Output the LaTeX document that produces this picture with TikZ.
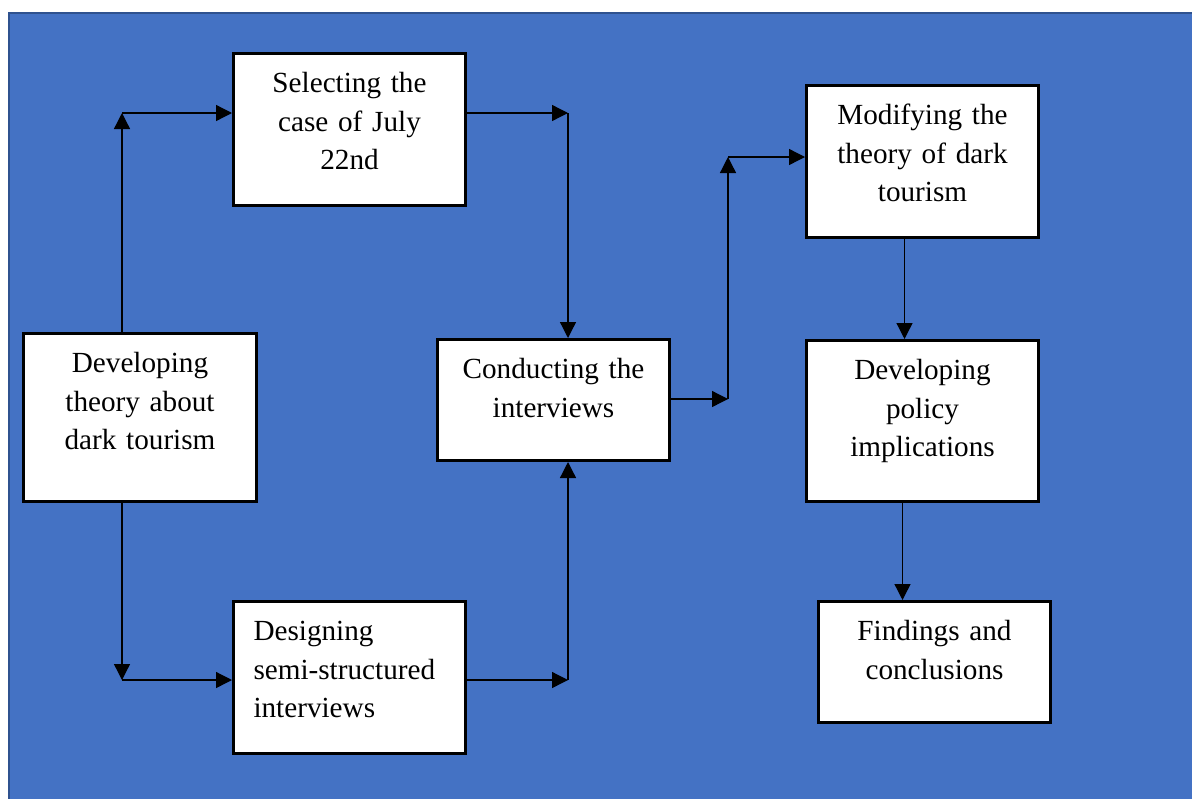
\documentclass[tikz,border=0pt]{standalone}
\usepackage{fontspec}
\setmainfont{Liberation Serif}
\usetikzlibrary{arrows.meta}
\definecolor{wordblue}{RGB}{68,114,196}
\definecolor{wordedge}{RGB}{47,82,143}

\tikzset{
  stagebox/.style={draw=black, line width=1.5pt, fill=white, anchor=north west,
    text width=110pt, inner xsep=3pt, inner ysep=0pt, align=center,
    font=\fontsize{14.6pt}{19.25pt}\selectfont,
    text height=19.5pt, text depth={#1-19.5pt}},
  flow/.style={line width=0.65pt, -{Triangle[length=8pt,width=8pt]}}
}

\begin{document}
\begin{tikzpicture}[x=0.5pt, y=-0.5pt]
  \useasboundingbox (0,0) rectangle (1192,798);
  \fill[white] (0,0) rectangle (1192,798);
  \draw[wordedge, fill=wordblue, line width=1pt] (9,13) rectangle (1240,840);

  % stages
  \node[stagebox=76pt] (sel) at (232,52) {Selecting the\\case of July\\22nd};
  \node[stagebox=84pt, text width=110.5pt] (devt) at (22,332) {Developing\\theory about\\dark tourism};
  \node[stagebox=76pt, align=left, text width=96pt, inner xsep=10pt] (des) at (232,600) {Designing\\semi-structured\\interviews};
  \node[stagebox=60.5pt] (con) at (436,338) {Conducting the\\interviews};
  \node[stagebox=76pt] (mod) at (805,84) {Modifying the\\theory of dark\\tourism};
  \node[stagebox=80.5pt] (pol) at (805,339) {Developing\\policy\\implications};
  \node[stagebox=60.5pt] (fin) at (817,600) {Findings and\\conclusions};

  % corners
  \coordinate (c1) at (122,113);
  \coordinate (c2) at (568,113);
  \coordinate (c3) at (122,680);
  \coordinate (c4) at (568,680);
  \coordinate (c5) at (728,399);
  \coordinate (c6) at (728,157);

  % upper branch
  \draw[flow] (devt.north -| c1) -- (c1);
  \draw[flow] (c1) -- (c1 -| sel.west);
  \draw[flow] (sel.east |- c2) -- (c2);
  \draw[flow] (c2) -- (c2 |- con.north);

  % lower branch
  \draw[flow] (devt.south -| c3) -- (c3);
  \draw[flow] (c3) -- (c3 -| des.west);
  \draw[flow] (des.east |- c4) -- (c4);
  \draw[flow] (c4) -- (c4 |- con.south);

  % right column
  \draw[flow] (con.east |- c5) -- (c5);
  \draw[flow] (c5) -- (c6);
  \draw[flow] (c6) -- (c6 -| mod.west);
  \draw[flow] ([xshift=-9pt]mod.south) -- ([xshift=-9pt]mod.south |- pol.north);
  \draw[flow] ([xshift=-10pt]pol.south) -- ([xshift=-10pt]pol.south |- fin.north);
\end{tikzpicture}
\end{document}
